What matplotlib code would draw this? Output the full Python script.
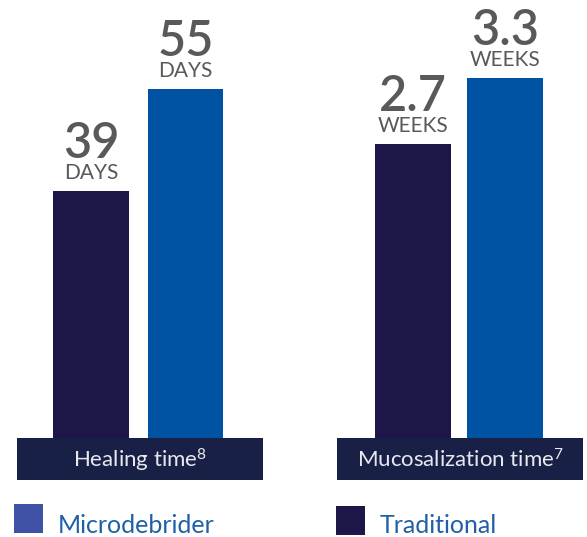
import matplotlib.pyplot as plt
from matplotlib.patches import Rectangle

plt.rcParams['font.family'] = ['Lato', 'DejaVu Sans']
plt.rcParams['mathtext.fontset'] = 'custom'
plt.rcParams['mathtext.rm'] = 'Lato'
plt.rcParams['mathtext.it'] = 'Lato'

# data
groups = ['Healing time', 'Mucosalization time']
refs = ['8', '7']
units = ['DAYS', 'WEEKS']
dark_vals = [39, 2.7]
blue_vals = [55, 3.3]
legend_labels = ['Microdebrider', 'Traditional']

# colours
DARK = '#1d1749'
BLUE = '#0052a2'
BOX = '#182045'
GREY = '#58595b'
LEG_TXT = '#1f5fa8'
LEG_COLS = ['#3f51a5', '#1d1749']

W, H = 587, 537
fig = plt.figure(figsize=(W / 100, H / 100), dpi=100)

def frac(x, y, w, h):
    # pixel box (from top-left) -> figure fraction
    return [x / W, (H - y - h) / H, w / W, h / H]

# panel layout: box left, px per category step, px per unit, bar width
panels = [
    dict(left=17, step=94.5, first=74, scale=6.34, width=0.80),
    dict(left=337, step=92.0, first=76, scale=109.0, width=0.83),
]
box_w = 246
base_y = 438

for i, p in enumerate(panels):
    ax = fig.add_axes(frac(p['left'], 0, box_w, base_y))
    vals = [dark_vals[i], blue_vals[i]]
    ax.bar([0, 1], vals, width=p['width'], color=[DARK, BLUE], linewidth=0)
    x0 = -p['first'] / p['step']
    ax.set_xlim(x0, x0 + box_w / p['step'])
    ax.set_ylim(0, base_y / p['scale'])
    ax.axis('off')
    for j, v in enumerate(vals):
        ax.annotate(f'{v:g}', (j, v), xytext=(0, 33 * 0.72), textcoords='offset points',
                    ha='center', va='baseline', fontsize=35, fontweight='semibold',
                    color=GREY)
        ax.annotate(units[i], (j, v), xytext=(0, 12 * 0.72), textcoords='offset points',
                    ha='center', va='baseline', fontsize=15, color=GREY)

    bx = fig.add_axes(frac(p['left'], base_y, box_w, 42))
    bx.set_facecolor(BOX)
    bx.set_xticks([])
    bx.set_yticks([])
    for s in bx.spines.values():
        s.set_visible(False)
    bx.text(0.5, 0.47, groups[i] + '$^{' + refs[i] + '}$', transform=bx.transAxes,
            ha='center', va='center', fontsize=16, color='#e8e9f0')

# legend
leg_pos = [(14, 504), (336, 506)]
for (lx, ly), lab, col in zip(leg_pos, legend_labels, LEG_COLS):
    fig.add_artist(Rectangle((lx / W, (H - ly - 29) / H), 29 / W, 29 / H,
                             transform=fig.transFigure, color=col, linewidth=0))
    fig.text((lx + 44) / W, (H - 533) / H, lab, ha='left', va='baseline',
             fontsize=18, color=LEG_TXT)

fig.savefig('out.png', dpi=100)
